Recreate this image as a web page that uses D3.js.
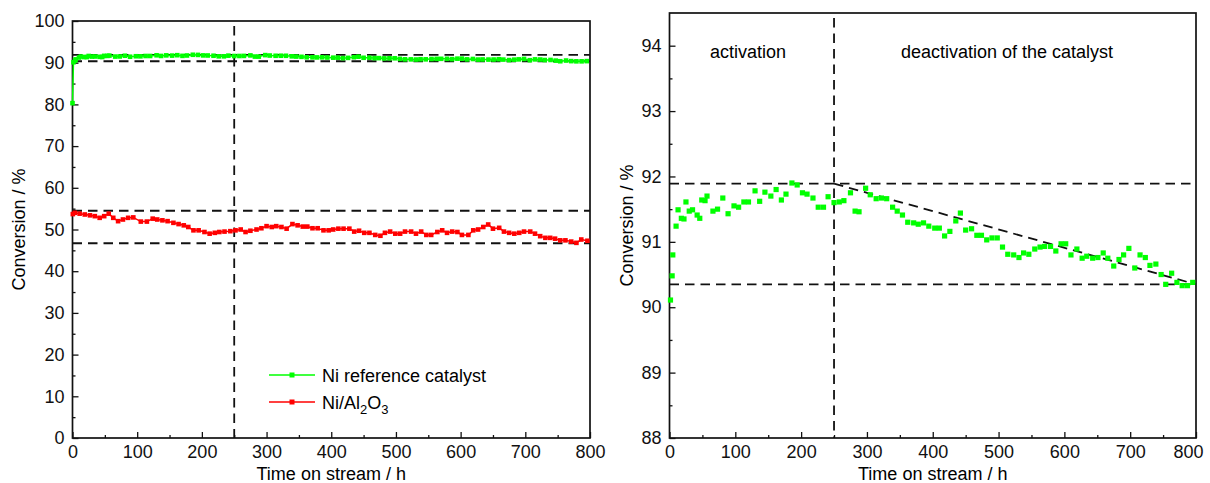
<!DOCTYPE html>
<html>
<head>
<meta charset="utf-8">
<script src="https://cdn.jsdelivr.net/npm/d3@7"></script>
<style>
  body { margin: 0; background: #fff; }
  svg { display: block; font-family: "Liberation Sans", Arial, sans-serif; }
</style>
</head>
<body>
<div id="chart"></div>
<script>
// Ni reference catalyst (time on stream in h, conversion in %)
const greenTime = [0, 1.5, 4, 5, 10, 13, 18, 22, 25, 30, 35, 42, 46, 49, 54, 57, 66, 73, 81, 89, 98, 105, 113, 120,
  130, 137, 145, 154, 162, 170, 177, 186, 194, 202, 209, 218, 226, 234, 241, 250, 258, 265, 275, 282, 288,
  298, 305, 314, 322, 330, 339, 346, 354, 362, 371, 378, 386, 394, 403, 410, 418, 426, 435, 442, 450, 459,
  467, 474, 482, 490, 498, 506, 514, 523, 531, 538, 546, 555, 563, 570, 579, 587, 595, 602, 610, 619, 627,
  634, 643, 651, 659, 666, 675, 683, 690, 698, 707, 715, 723, 730, 739, 747, 754, 763, 771, 779, 787, 795];
const greenConv = [80.3, 90.11, 90.48, 90.8, 91.24, 91.49, 91.36, 91.35, 91.61, 91.47, 91.49, 91.41, 91.36, 91.64,
  91.63, 91.7, 91.47, 91.5, 91.67, 91.43, 91.55, 91.53, 91.61, 91.61, 91.78, 91.62, 91.76, 91.7, 91.8, 91.64,
  91.73, 91.9, 91.87, 91.75, 91.73, 91.67, 91.53, 91.53, 91.69, 91.6, 91.61, 91.63, 91.75, 91.47, 91.46,
  91.82, 91.72, 91.66, 91.67, 91.66, 91.53, 91.47, 91.41, 91.3, 91.29, 91.27, 91.29, 91.24, 91.21, 91.21,
  91.09, 91.16, 91.32, 91.44, 91.18, 91.2, 91.1, 91.1, 91.03, 91.06, 91.06, 90.92, 90.81, 90.8, 90.76, 90.83,
  90.81, 90.89, 90.92, 90.93, 90.93, 90.86, 90.97, 90.97, 90.8, 90.89, 90.75, 90.78, 90.75, 90.76, 90.83,
  90.75, 90.63, 90.73, 90.8, 90.9, 90.6, 90.8, 90.76, 90.64, 90.66, 90.5, 90.35, 90.52, 90.38, 90.33, 90.33, 90.38];

// Ni/Al2O3
const redTime = [0.5, 3.6, 11, 19, 27, 34.5, 42, 49, 56, 63, 70.5, 78, 86, 94, 105.6, 115, 124, 131, 139, 147, 156,
  164, 172, 179, 187, 195, 204, 212, 220, 227, 235, 244, 252, 260, 267.5, 275, 284.5, 292, 300, 308, 315, 323,
  331, 340, 348, 356, 363, 371, 379, 388, 396, 403, 411, 419, 428, 435.5, 443, 451, 459, 468, 476, 483, 491,
  499, 506.5, 514, 523.5, 531, 539, 547, 554.5, 564, 571.5, 579, 587, 595, 602, 612, 619.5, 627, 635, 642.6,
  650, 659.6, 667, 675, 683, 690.6, 698, 707.6, 715, 723, 731, 738.5, 746, 754, 762, 771, 779, 786.5, 796];
const redConv = [53.7, 54.0, 53.8, 53.6, 53.4, 53.2, 52.8, 53.2, 53.8, 52.8, 52.0, 52.4, 52.8, 52.9, 51.9, 51.9, 52.6,
  52.4, 52.2, 52.0, 51.6, 51.3, 51.0, 50.6, 49.8, 49.8, 49.4, 49.0, 49.2, 49.4, 49.5, 49.6, 49.8, 50.0, 49.4,
  49.7, 50.0, 50.3, 50.8, 50.6, 50.8, 50.6, 50.2, 51.3, 51.0, 50.7, 50.7, 50.3, 50.3, 49.8, 49.8, 50.0, 50.2,
  50.2, 50.2, 49.5, 49.7, 49.2, 49.2, 48.7, 48.5, 49.2, 49.5, 49.0, 49.0, 49.5, 49.5, 49.0, 49.5, 48.7, 48.7,
  49.4, 49.8, 49.2, 49.5, 49.4, 48.7, 48.7, 49.8, 50.0, 50.6, 51.2, 50.2, 50.4, 49.5, 49.2, 49.0, 49.2, 49.5,
  49.5, 49.0, 48.4, 48.0, 48.0, 47.8, 47.4, 47.4, 47.1, 46.8, 47.6, 47.3];

// guide lines
const greenBand = [90.35, 91.89];
const redBand = [46.7, 54.5];
const splitTime = 250;
const trendTime = [250, 800];
const trendConv = [91.89, 90.35];

// ticks
const timeTicks = [0, 100, 200, 300, 400, 500, 600, 700, 800];
const timeMinor = [50, 150, 250, 350, 450, 550, 650, 750];
const leftTicks = [0, 10, 20, 30, 40, 50, 60, 70, 80, 90, 100];
const leftMinor = [5, 15, 25, 35, 45, 55, 65, 75, 85, 95];
const rightTicks = [88, 89, 90, 91, 92, 93, 94];
const rightMinor = [88.5, 89.5, 90.5, 91.5, 92.5, 93.5];

const seriesNames = ['Ni reference catalyst', 'Ni/Al2O3'];
const phaseLabels = ['activation', 'deactivation of the catalyst'];

const width = 1210, height = 483;
const green = '#00ff00', red = '#ff0000';
const fs = 18;

const svg = d3.select('#chart').append('svg')
  .attr('width', width)
  .attr('height', height);

const green2 = greenTime.map((t, i) => ({ t, v: greenConv[i] }));
const red2 = redTime.map((t, i) => ({ t, v: redConv[i] }));

function frame(x, y, yTicks, yMinor) {
  const g = svg.append('g');
  const [x0, x1] = x.range();
  const [y0, y1] = y.range();

  const styleAxis = sel => {
    sel.select('.domain').remove();
    sel.selectAll('.tick line').attr('stroke', '#111').attr('stroke-width', 1.3);
    sel.selectAll('.tick text').attr('font-size', fs).attr('fill', '#111')
      .attr('font-family', '"Liberation Sans", Arial, sans-serif');
  };

  g.append('g').attr('transform', `translate(0,${y0})`)
    .call(d3.axisBottom(x).tickValues(timeTicks).tickSize(-6).tickPadding(7).tickFormat(d3.format('d')))
    .call(styleAxis);
  g.append('g').attr('transform', `translate(0,${y0})`)
    .call(d3.axisBottom(x).tickValues(timeMinor).tickSize(-3).tickFormat(''))
    .call(styleAxis);
  g.append('g').attr('transform', `translate(${x0},0)`)
    .call(d3.axisLeft(y).tickValues(yTicks).tickSize(-6).tickPadding(8).tickFormat(d3.format('d')))
    .call(styleAxis);
  g.append('g').attr('transform', `translate(${x0},0)`)
    .call(d3.axisLeft(y).tickValues(yMinor).tickSize(-3).tickFormat(''))
    .call(styleAxis);

  g.append('rect')
    .attr('x', x0).attr('y', y1)
    .attr('width', x1 - x0).attr('height', y0 - y1)
    .attr('fill', 'none').attr('stroke', '#111').attr('stroke-width', 1.7);

  g.append('text')
    .attr('x', (x0 + x1) / 2).attr('y', 480)
    .attr('text-anchor', 'middle').attr('font-size', fs)
    .text('Time on stream / h');

  return g;
}

function dashH(x, y, v) {
  svg.append('line')
    .attr('x1', x(0)).attr('x2', x(800))
    .attr('y1', y(v)).attr('y2', y(v))
    .attr('stroke', '#111').attr('stroke-width', 1.8)
    .attr('stroke-dasharray', '9.5,6');
}

function dashV(x, y, t) {
  svg.append('line')
    .attr('x1', x(t)).attr('x2', x(t))
    .attr('y1', y.range()[1] + 5).attr('y2', y.range()[0])
    .attr('stroke', '#111').attr('stroke-width', 1.8)
    .attr('stroke-dasharray', '9.5,6');
}

// ---- left panel ----
const xL = d3.scaleLinear().domain([0, 800]).range([72.5, 590]);
const yL = d3.scaleLinear().domain([0, 100]).range([438, 21]);

frame(xL, yL, leftTicks, leftMinor);

svg.append('text')
  .attr('transform', `translate(25,${(yL(0) + yL(100)) / 2}) rotate(-90)`)
  .attr('text-anchor', 'middle').attr('font-size', fs)
  .text('Conversion / %');

greenBand.forEach(v => dashH(xL, yL, v));
redBand.forEach(v => dashH(xL, yL, v));
dashV(xL, yL, splitTime);

const lineL = d3.line().x(d => xL(d.t)).y(d => yL(d.v));

[[green2, green], [red2, red]].forEach(([data, col]) => {
  svg.append('path')
    .datum(data)
    .attr('d', lineL)
    .attr('fill', 'none').attr('stroke', col).attr('stroke-width', 1.5);
  svg.append('g').selectAll('rect')
    .data(data)
    .join('rect')
    .attr('x', d => xL(d.t) - 2.3).attr('y', d => yL(d.v) - 2.3)
    .attr('width', 4.6).attr('height', 4.6)
    .attr('fill', col);
});

// legend
const legend = svg.append('g');
[[seriesNames[0], green, 375], [seriesNames[1], red, 402]].forEach(([name, col, ly]) => {
  legend.append('line')
    .attr('x1', 269).attr('x2', 315).attr('y1', ly).attr('y2', ly)
    .attr('stroke', col).attr('stroke-width', 1.5);
  legend.append('rect')
    .attr('x', 289.5).attr('y', ly - 2.5).attr('width', 5).attr('height', 5)
    .attr('fill', col);
  const tx = legend.append('text')
    .attr('x', 322).attr('y', ly + 6.5).attr('font-size', fs);
  if (name === 'Ni/Al2O3') {
    tx.append('tspan').text('Ni/Al');
    tx.append('tspan').attr('font-size', 13).attr('dy', 5).text('2');
    tx.append('tspan').attr('dy', -5).text('O');
    tx.append('tspan').attr('font-size', 13).attr('dy', 5).text('3');
  } else {
    tx.text(name);
  }
});

// ---- right panel ----
const xR = d3.scaleLinear().domain([0, 800]).range([669.5, 1196]);
const yR = d3.scaleLinear().domain([88, 94.5]).range([438, 13]);

const right = frame(xR, yR, rightTicks, rightMinor);
// keep the last tick label inside the page
right.selectAll('.tick text').filter(d => d === 800).attr('dx', -8);

svg.append('text')
  .attr('transform', `translate(633,${(yR(88) + yR(94.5)) / 2}) rotate(-90)`)
  .attr('text-anchor', 'middle').attr('font-size', fs)
  .text('Conversion / %');

greenBand.forEach(v => dashH(xR, yR, v));
dashV(xR, yR, splitTime);

svg.append('line')
  .attr('x1', xR(trendTime[0])).attr('y1', yR(trendConv[0]))
  .attr('x2', xR(trendTime[1])).attr('y2', yR(trendConv[1]))
  .attr('stroke', '#111').attr('stroke-width', 1.8)
  .attr('stroke-dasharray', '9.5,6');

svg.append('g').selectAll('rect')
  .data(green2.filter(d => d.v >= 88))
  .join('rect')
  .attr('x', d => xR(d.t) - 2.6).attr('y', d => yR(d.v) - 2.6)
  .attr('width', 5.2).attr('height', 5.2)
  .attr('fill', green);

svg.append('text')
  .attr('x', 748).attr('y', 58)
  .attr('text-anchor', 'middle').attr('font-size', fs)
  .text(phaseLabels[0]);
svg.append('text')
  .attr('x', 1007).attr('y', 58)
  .attr('text-anchor', 'middle').attr('font-size', fs)
  .text(phaseLabels[1]);
</script>
</body>
</html>
